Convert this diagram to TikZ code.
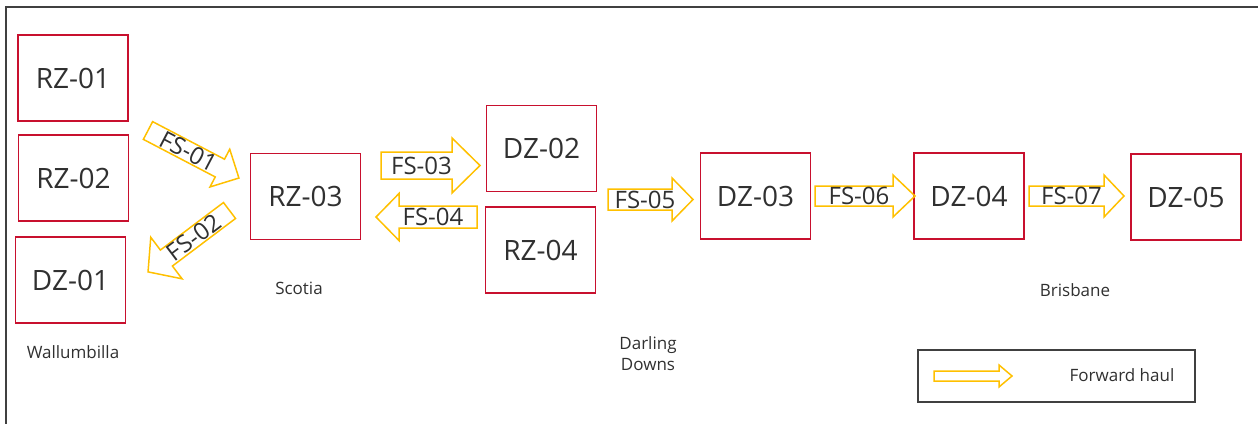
\documentclass[tikz,border=0pt]{standalone}
\usepackage{fontspec}
\setmainfont{Open Sans}
\definecolor{zonered}{HTML}{C8102E}
\definecolor{haul}{HTML}{FFC000}
\definecolor{ink}{HTML}{303030}
\definecolor{framec}{HTML}{404040}
\tikzset{
  zone/.style={draw=zonered, line width=1.6pt, minimum width=110pt, minimum height=86pt,
    inner sep=0pt, text=ink, font=\fontsize{28}{32}\selectfont},
  farrow/.style={draw=haul, line width=1.5pt, line join=miter},
  fslabel/.style={text=ink, inner sep=0pt, font=\fontsize{24}{28}\selectfont},
  place/.style={text=ink, inner sep=0pt, font=\fontsize{17}{21}\selectfont, align=center},
  framel/.style={draw=framec, line width=2pt}
}
% #1 name, #2 tail centre, #3 angle, #4 length, #5 head length, #6 shaft half width,
% #7 head half width, #8 text, #9 text angle
\newcommand\blockarrow[9]{%
  \begin{scope}[shift={#2}, rotate=#3]
    \draw[farrow] (0,-#6) -- ({#4-#5},-#6) -- ({#4-#5},-#7) -- (#4,0) -- ({#4-#5},#7)
      -- ({#4-#5},#6) -- (0,#6) -- cycle;
    \node[fslabel, rotate=#9] (#1) at ({(#4-#5)/2+5},0) {#8};
  \end{scope}}
\begin{document}
\begin{tikzpicture}[x=1pt, y=-1pt]
\useasboundingbox (0,0) rectangle (1258,423);
\draw[framel] (6,424) -- (6,7) -- (1259,7);

% zones
\node[zone] (rz01) at (73,78) {RZ-01};
\node[zone] (rz02) at (73.5,178) {RZ-02};
\node[zone] (dz01) at (70.5,280) {DZ-01};
\node[zone] (rz03) at (305.5,196.5) {RZ-03};
\node[zone] (dz02) at (541.5,148.5) {DZ-02};
\node[zone] (rz04) at (540.5,250) {RZ-04};
\node[zone] (dz03) at (755.5,196) {DZ-03};
\node[zone] (dz04) at (969,196) {DZ-04};
\node[zone] (dz05) at (1186,197) {DZ-05};

% place names
\node[place] (wal) at (73,352) {Wallumbilla};
\node[place] (sco) at (299,288) {Scotia};
\node[place] (dar) at (648,354) {Darling\\Downs};
\node[place] (bri) at (1075,290) {Brisbane};

% flow arrows
\blockarrow{fs01}{(148,130.5)}{-27.6}{102.6}{21.5}{10}{21.3}{FS-01}{-27.6}
\blockarrow{fs02}{(229.5,210.5)}{217}{102}{23}{10}{26}{FS-02}{37}
\blockarrow{fs03}{(381,165.5)}{0}{99}{28}{13.5}{27.5}{FS-03}{0}
\blockarrow{fs04}{(477,217)}{180}{101}{23}{11}{23.5}{FS-04}{0}
\blockarrow{fs05}{(608,199.5)}{0}{85}{21}{10.5}{21.5}{FS-05}{0}
\blockarrow{fs06}{(815,196)}{0}{100}{22}{10}{21}{FS-06}{0}
\blockarrow{fs07}{(1029,196)}{0}{95}{20}{10}{21}{FS-07}{0}

% legend
\node[framel, minimum width=277pt, minimum height=52pt, inner sep=0pt] (legend) at (1056.5,376) {};
\begin{scope}[shift={(934,376)}]
  \draw[farrow] (0,-5) -- (65,-5) -- (65,-11) -- (78,0) -- (65,11) -- (65,5) -- (0,5) -- cycle;
\end{scope}
\node[place] (fwd) at (1122,375) {Forward haul};
\end{tikzpicture}
\end{document}
